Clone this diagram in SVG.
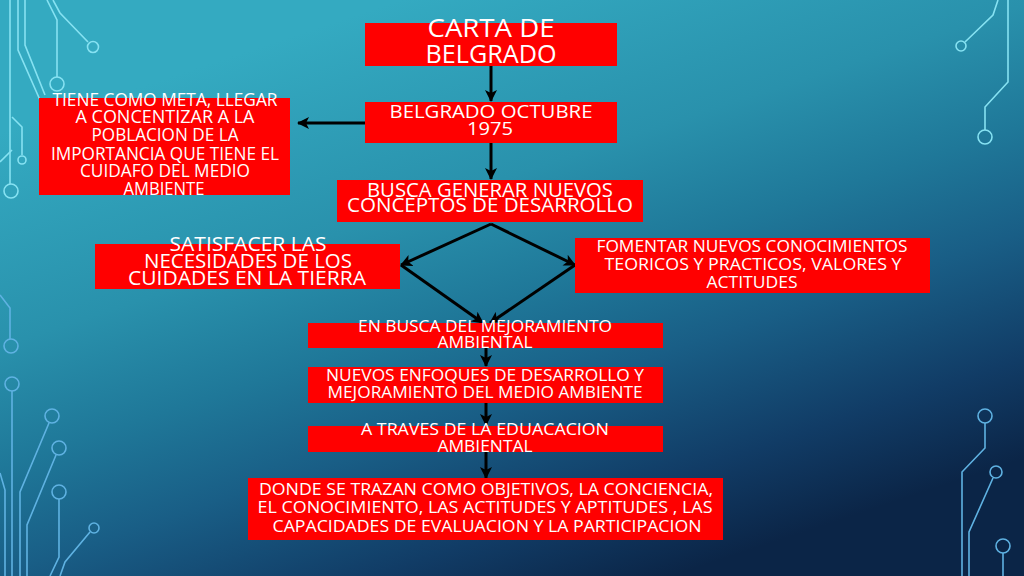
<svg xmlns="http://www.w3.org/2000/svg" width="1024" height="576" viewBox="0 0 1024 576">
<defs>
<linearGradient id="bg" gradientUnits="userSpaceOnUse" x1="400" y1="0" x2="600" y2="600">
<stop offset="0" stop-color="#34aac1"/>
<stop offset="0.32" stop-color="#2991ac"/>
<stop offset="0.5" stop-color="#1f7899"/>
<stop offset="0.66" stop-color="#195e86"/>
<stop offset="0.85" stop-color="#113c66"/>
<stop offset="1" stop-color="#0b2547"/>
</linearGradient>
<marker id="ah" markerUnits="userSpaceOnUse" markerWidth="12" markerHeight="12" viewBox="0 0 12 12" refX="11" refY="6" orient="auto">
<path d="M0,0 L12,6 L0,12 L3,6 Z" fill="#000"/>
</marker>
<style>
.box{fill:#ff0000}
.t{fill:#ffffff;font-family:"Open Sans","DejaVu Sans",sans-serif;text-anchor:middle}
.c1{fill:none;stroke:#86e2f2;stroke-width:1.6}
.c2{fill:none;stroke:#5fb2e2;stroke-width:1.6}
.con{fill:none;stroke:#000;stroke-width:3;marker-end:url(#ah)}
</style>
</defs>
<rect width="1024" height="576" fill="url(#bg)"/>
<g id="circuits">
<path class="c1" d="M10,0 V184"/><circle class="c1" cx="11" cy="191" r="7"/>
<path class="c1" d="M18,0 V50 L40,100"/>
<path class="c1" d="M25,0 V45 L45,95"/>
<path class="c1" d="M47,0 L57,20 V77"/><circle class="c1" cx="57" cy="84" r="7"/>
<path class="c1" d="M53,0 L60,13 L88,42"/><circle class="c1" cx="93" cy="47" r="5.5"/>
<path class="c1" d="M12,117 L22,127 V155"/><circle class="c1" cx="22" cy="160" r="4"/>
<path class="c1" d="M0,162 L12,150"/>
<path class="c2" d="M0,295 L10,308 V339"/><circle class="c2" cx="11" cy="346" r="7"/>
<circle class="c2" cx="12" cy="384" r="7"/><path class="c2" d="M12,391 V576"/>
<circle class="c2" cx="52" cy="416" r="7"/><path class="c2" d="M49,423 L20,492 V576"/>
<circle class="c2" cx="59" cy="448" r="7"/><path class="c2" d="M56,455 L27,525 V576"/>
<circle class="c2" cx="59" cy="492" r="7"/><path class="c2" d="M59,499 V557 L50,576"/>
<circle class="c2" cx="94" cy="528" r="5"/><path class="c2" d="M90,532 L65,562 L60,576"/>
<path class="c2" d="M0,473 L5,490 V576"/>
<path class="c1" d="M998,0 L993,15 L965,42"/><circle class="c1" cx="961" cy="46" r="5"/>
<path class="c1" d="M1008,0 V82 L985,107 V130"/><circle class="c1" cx="985" cy="137" r="7"/>
<circle class="c2" cx="985" cy="416" r="7"/><path class="c2" d="M985,423 V448 L962,472 V576"/>
<circle class="c2" cx="996" cy="472" r="6"/><path class="c2" d="M993,478 L969,532 V576"/>
<circle class="c2" cx="1003" cy="546" r="7"/><path class="c2" d="M1003,553 V576"/>
</g>
<g id="connectors">
<path class="con" d="M491,66 V101"/>
<path class="con" d="M365,123 H298"/>
<path class="con" d="M491,143 V179"/>
<path class="con" d="M491,224 L401,265"/>
<path class="con" d="M491,224 L575,265"/>
<path class="con" d="M401,265 L483,323"/>
<path class="con" d="M575,265 L490,323"/>
<path class="con" d="M486,348 V366"/>
<path class="con" d="M486,403 V425"/>
<path class="con" d="M486,452 V478"/>
</g>
<g id="n1">
<rect class="box" x="365" y="23" width="252" height="43"/>
<text class="t" font-size="26" x="491" y="37" textLength="127" lengthAdjust="spacingAndGlyphs">CARTA DE</text>
<text class="t" font-size="26" x="491" y="63" textLength="131" lengthAdjust="spacingAndGlyphs">BELGRADO</text>
</g>
<g id="n2">
<rect class="box" x="365" y="102" width="252" height="41"/>
<text class="t" font-size="18" x="491" y="118" textLength="203" lengthAdjust="spacingAndGlyphs">BELGRADO OCTUBRE</text>
<text class="t" font-size="18" x="490" y="135" textLength="46" lengthAdjust="spacingAndGlyphs">1975</text>
</g>
<g id="n3">
<rect class="box" x="39" y="98" width="251" height="97"/>
<text class="t" font-size="18" x="165" y="106" textLength="225" lengthAdjust="spacingAndGlyphs">TIENE COMO META, LLEGAR</text>
<text class="t" font-size="18" x="165" y="123" textLength="179" lengthAdjust="spacingAndGlyphs">A CONCENTIZAR A LA</text>
<text class="t" font-size="18" x="165" y="141" textLength="147" lengthAdjust="spacingAndGlyphs">POBLACION DE LA</text>
<text class="t" font-size="18" x="165" y="160" textLength="228" lengthAdjust="spacingAndGlyphs">IMPORTANCIA QUE TIENE EL</text>
<text class="t" font-size="18" x="165" y="177" textLength="170" lengthAdjust="spacingAndGlyphs">CUIDAFO DEL MEDIO</text>
<text class="t" font-size="18" x="164" y="195" textLength="81" lengthAdjust="spacingAndGlyphs">AMBIENTE</text>
</g>
<g id="n4">
<rect class="box" x="337" y="180" width="306" height="42"/>
<text class="t" font-size="19.5" x="490" y="197" textLength="246" lengthAdjust="spacingAndGlyphs">BUSCA GENERAR NUEVOS</text>
<text class="t" font-size="19.5" x="490" y="212" textLength="286" lengthAdjust="spacingAndGlyphs">CONCEPTOS DE DESARROLLO</text>
</g>
<g id="n5">
<rect class="box" x="95" y="244" width="305" height="45"/>
<text class="t" font-size="19.5" x="248" y="251" textLength="157" lengthAdjust="spacingAndGlyphs">SATISFACER LAS</text>
<text class="t" font-size="19.5" x="248" y="268" textLength="208" lengthAdjust="spacingAndGlyphs">NECESIDADES DE LOS</text>
<text class="t" font-size="19.5" x="247" y="285" textLength="238" lengthAdjust="spacingAndGlyphs">CUIDADES EN LA TIERRA</text>
</g>
<g id="n6">
<rect class="box" x="575" y="238" width="355" height="55"/>
<text class="t" font-size="16.5" x="752" y="252" textLength="311" lengthAdjust="spacingAndGlyphs">FOMENTAR NUEVOS CONOCIMIENTOS</text>
<text class="t" font-size="16.5" x="753" y="270" textLength="297" lengthAdjust="spacingAndGlyphs">TEORICOS Y PRACTICOS, VALORES Y</text>
<text class="t" font-size="16.5" x="752" y="288" textLength="91" lengthAdjust="spacingAndGlyphs">ACTITUDES</text>
</g>
<g id="n7">
<rect class="box" x="308" y="323" width="355" height="25"/>
<text class="t" font-size="17" x="485" y="332" textLength="254" lengthAdjust="spacingAndGlyphs">EN BUSCA DEL MEJORAMIENTO</text>
<text class="t" font-size="17" x="485" y="348" textLength="95" lengthAdjust="spacingAndGlyphs">AMBIENTAL</text>
</g>
<g id="n8">
<rect class="box" x="308" y="367" width="355" height="36"/>
<text class="t" font-size="17" x="485" y="381" textLength="318" lengthAdjust="spacingAndGlyphs">NUEVOS ENFOQUES DE DESARROLLO Y</text>
<text class="t" font-size="17" x="485" y="398" textLength="315" lengthAdjust="spacingAndGlyphs">MEJORAMIENTO DEL MEDIO AMBIENTE</text>
</g>
<g id="n9">
<rect class="box" x="308" y="426" width="355" height="26"/>
<text class="t" font-size="17" x="485" y="435" textLength="248" lengthAdjust="spacingAndGlyphs">A TRAVES DE LA EDUACACION</text>
<text class="t" font-size="17" x="485" y="452" textLength="95" lengthAdjust="spacingAndGlyphs">AMBIENTAL</text>
</g>
<g id="n10">
<rect class="box" x="248" y="478" width="475" height="62"/>
<text class="t" font-size="17" x="486" y="495" textLength="454" lengthAdjust="spacingAndGlyphs">DONDE SE TRAZAN COMO OBJETIVOS, LA CONCIENCIA,</text>
<text class="t" font-size="17" x="485" y="513" textLength="455" lengthAdjust="spacingAndGlyphs">EL CONOCIMIENTO, LAS ACTITUDES Y APTITUDES , LAS</text>
<text class="t" font-size="17" x="487" y="532" textLength="429" lengthAdjust="spacingAndGlyphs">CAPACIDADES DE EVALUACION Y LA PARTICIPACION</text>
</g>
</svg>
